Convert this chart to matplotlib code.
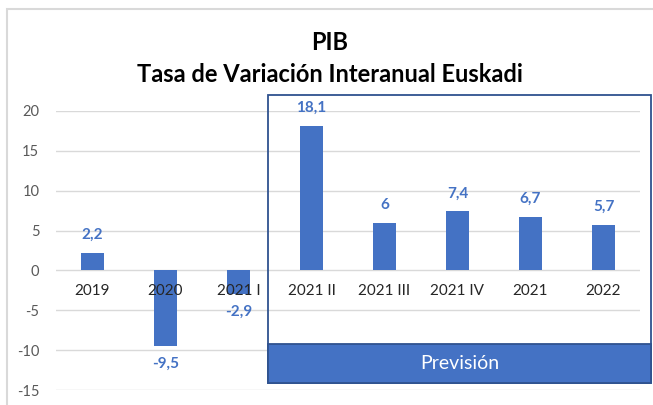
import matplotlib
matplotlib.use('Agg')
import matplotlib.pyplot as plt
from matplotlib.patches import Rectangle

categories = ['2019', '2020', '2021 I', '2021 II', '2021 III', '2021 IV', '2021', '2022']
values = [2.2, -9.5, -2.9, 18.1, 6, 7.4, 6.7, 5.7]
value_labels = ['2,2', '-9,5', '-2,9', '18,1', '6', '7,4', '6,7', '5,7']
yticks = [-15, -10, -5, 0, 5, 10, 15, 20]

blue = '#4472C4'
dark_blue = '#2F528F'
W, H = 653, 405

plt.rcParams['font.family'] = ['Lato', 'DejaVu Sans']
plt.rcParams['axes.unicode_minus'] = False

fig = plt.figure(figsize=(W / 100, H / 100), dpi=100)
ax = fig.add_axes([56 / W, 15 / H, (640 - 56) / W, (390 - 111) / H])

x = range(len(categories))
ax.bar(x, values, width=0.31, color=blue, zorder=2)

for xi, v, lab in zip(x, values, value_labels):
    off = 13 if v >= 0 else -13
    ax.annotate(lab, (xi, v), xytext=(0, off), textcoords='offset points',
                ha='center', va='center', color=blue, fontsize=11, fontweight='bold')

# category labels sit just under the zero line, drawn over the bars
for xi, cat in zip(x, categories):
    ax.annotate(cat, (xi, 0), xytext=(0, -15), textcoords='offset points',
                ha='center', va='center', color='#262626', fontsize=11, zorder=4)

ax.set_xlim(-0.5, len(categories) - 0.5)
ax.set_ylim(-15, 20)
ax.set_yticks(yticks)
ax.set_xticks([])
ax.grid(axis='y', color='#D9D9D9', linewidth=1, zorder=0)
ax.set_axisbelow(True)

for s in ['top', 'right', 'left', 'bottom']:
    ax.spines[s].set_visible(False)
ax.tick_params(axis='y', length=0, pad=12, labelsize=10.5, labelcolor='#595959')

# outer chart border
fig.patches.append(Rectangle((7 / W, -0.1), 1.0, 1.1 - 9.5 / H, transform=fig.transFigure,
                             fill=False, edgecolor='#D9D9D9', linewidth=1.5, zorder=0))

# forecast box
x0, x1, y0, y1, yb = 268, 651, 95, 383, 344
fig.patches.append(Rectangle((x0 / W, (H - y1) / H), (x1 - x0) / W, (y1 - y0) / H,
                             transform=fig.transFigure, fill=False,
                             edgecolor=dark_blue, linewidth=1.3, zorder=5))
fig.patches.append(Rectangle((x0 / W, (H - y1) / H), (x1 - x0) / W, (y1 - yb) / H,
                             transform=fig.transFigure, facecolor=blue,
                             edgecolor=dark_blue, linewidth=1.3, zorder=5))
fig.text((x0 + x1) / 2 / W, (H - (y1 + yb) / 2) / H, 'Previsión', color='white',
         fontsize=14, ha='center', va='center', zorder=6)

fig.text(330 / W, (H - 42) / H, 'PIB', ha='center', va='center',
         fontsize=17, fontweight='bold', color='black')
fig.text(330 / W, (H - 75) / H, 'Tasa de Variación Interanual Euskadi', ha='center',
         va='center', fontsize=17, fontweight='bold', color='black')

fig.savefig('out.png', dpi=100)
